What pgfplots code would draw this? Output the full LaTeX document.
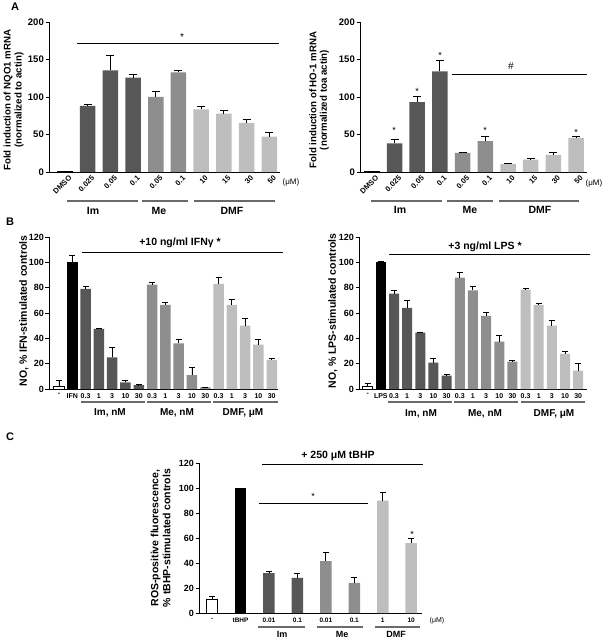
\documentclass[border=0pt]{standalone}
\usepackage{fontspec}
\setmainfont{Liberation Sans}
\usepackage{pgfplots}
\pgfplotsset{compat=1.18}
\definecolor{imgray}{HTML}{575757}
\definecolor{megray}{HTML}{8E8E8E}
\definecolor{dmfgray}{HTML}{BEBEBE}
\definecolor{grpline}{HTML}{6A6A6A}

\newcommand{\fs}[1]{\fontsize{#1}{#1}\selectfont\bfseries}

\pgfplotsset{
  panel/.style={
    scale only axis, anchor=south west,
    axis x line*=bottom, axis y line*=left,
    axis line style={line width=0.9pt},
    ybar, bar shift=0pt, ymin=0,
    xtick style={draw=none},
    ytick style={line width=0.9pt, black},
    tick align=outside, major tick length=3.5pt,
    /pgf/number format/assume math mode=true,
    yticklabel style={font=\fs{9}, inner sep=1.5pt},
    xticklabel style={font=\fs{7}},
    error bars/y dir=plus, error bars/y explicit,
    error bars/error bar style={black, line width=0.9pt},
    clip=false,
  },
  rotticks/.style={
    xticklabel style={rotate=45, anchor=north east, xshift=4pt, yshift=-1pt,
      font=\fs{7.5}, inner sep=1pt},
  },
}

\begin{document}
\begin{tikzpicture}
\path[use as bounding box] (0pt,0pt) rectangle (605pt,-639pt);

% ---- A, NQO1
\begin{axis}[panel, rotticks, at={(49pt,-172pt)}, width=231pt, height=150pt,
  xmin=-0.7, xmax=9.47, ymax=200, ytick={0,50,...,200},
  yticklabel style={font=\fs{9.5}},
  bar width=15.5pt, xtick={0,...,9},
  xticklabels={DMSO,0.025,0.05,0.1,0.05,0.1,10,15,30,50},
  error bars/error mark options={rotate=90, mark size=4pt, line width=0.9pt, black}]
\addplot[fill=black, draw=none, error bars/y dir=none] coordinates {(0,1)};
\addplot[fill=imgray, draw=none] coordinates {(1,88) +- (0,2.7) (2,135.4) +- (0,20.4) (3,125.7) +- (0,3.9)};
\addplot[fill=megray, draw=none] coordinates {(4,100) +- (0,8) (5,132.7) +- (0,2.3)};
\addplot[fill=dmfgray, draw=none] coordinates {(6,83.6) +- (0,4.4) (7,77.9) +- (0,4.8) (8,65.5) +- (0,4) (9,47.3) +- (0,4.9)};
\end{axis}

% ---- A, HO-1
\begin{axis}[panel, rotticks, at={(360pt,-172pt)}, width=227pt, height=150pt,
  xmin=-0.52, xmax=9.48, ymax=200, ytick={0,50,...,200},
  yticklabel style={font=\fs{9.5}},
  bar width=15.5pt, xtick={0,...,9},
  xticklabels={DMSO,0.025,0.05,0.1,0.05,0.1,10,15,30,50},
  error bars/error mark options={rotate=90, mark size=4pt, line width=0.9pt, black}]
\addplot[fill=black, draw=none, error bars/y dir=none] coordinates {(0,1)};
\addplot[fill=imgray, draw=none] coordinates {(1,38) +- (0,6) (2,93) +- (0,8) (3,134) +- (0,15)};
\addplot[fill=megray, draw=none] coordinates {(4,25.4) +- (0,1.3) (5,41) +- (0,6.7)};
\addplot[fill=dmfgray, draw=none] coordinates {(6,10.7) +- (0,1.3) (7,16.5) +- (0,1.3) (8,23) +- (0,3.3) (9,45.4) +- (0,1.4)};
\end{axis}

% ---- B, IFN
\begin{axis}[panel, at={(49pt,-389pt)}, width=229pt, height=152pt,
  xmin=-0.75, xmax=16.47, ymax=120, ytick={0,20,...,120},
  bar width=10.5pt, xtick={0,...,16},
  xticklabels={-,IFN,0.3,1,3,10,30,0.3,1,3,10,30,0.3,1,3,10,30},
  xticklabel style={font=\fs{7}, inner sep=1pt},
  error bars/error mark options={rotate=90, mark size=3pt, line width=0.9pt, black}]
\addplot[fill=white, draw=black, line width=0.8pt] coordinates {(0,2.4) +- (0,4)};
\addplot[fill=black, draw=none] coordinates {(1,100) +- (0,5.5)};
\addplot[fill=imgray, draw=none] coordinates {(2,79) +- (0,2) (3,47.5) +- (0,0.5) (4,25) +- (0,8) (5,5.3) +- (0,1.3) (6,3) +- (0,0.3)};
\addplot[fill=megray, draw=none] coordinates {(7,82.5) +- (0,2) (8,66.5) +- (0,2) (9,36) +- (0,3.3) (10,11) +- (0,6) (11,1.3) +- (0,0.2)};
\addplot[fill=dmfgray, draw=none] coordinates {(12,83) +- (0,5) (13,66.5) +- (0,4.5) (14,50) +- (0,6) (15,35) +- (0,4) (16,23) +- (0,1.3)};
\end{axis}

% ---- B, LPS
\begin{axis}[panel, at={(359pt,-389pt)}, width=228pt, height=152pt,
  xmin=-0.66, xmax=16.67, ymax=120, ytick={0,20,...,120},
  bar width=10pt, xtick={0,...,16},
  xticklabels={-,LPS,0.3,1,3,10,30,0.3,1,3,10,30,0.3,1,3,10,30},
  xticklabel style={font=\fs{7}, inner sep=1pt},
  error bars/error mark options={rotate=90, mark size=3pt, line width=0.9pt, black}]
\addplot[fill=white, draw=black, line width=0.8pt] coordinates {(0,2.4) +- (0,2.1)};
\addplot[fill=black, draw=none] coordinates {(1,100) +- (0,0.8)};
\addplot[fill=imgray, draw=none] coordinates {(2,75.2) +- (0,2.4) (3,64) +- (0,5.8) (4,44.5) +- (0,0.3) (5,20.8) +- (0,3.7) (6,10.6) +- (0,0.7)};
\addplot[fill=megray, draw=none] coordinates {(7,88) +- (0,4) (8,77.8) +- (0,3.2) (9,57.8) +- (0,2.9) (10,37.5) +- (0,4.7) (11,21.6) +- (0,0.8)};
\addplot[fill=dmfgray, draw=none] coordinates {(12,78.4) +- (0,0.8) (13,66.5) +- (0,1.3) (14,50) +- (0,4) (15,27.7) +- (0,1.6) (16,14.5) +- (0,5.8)};
\end{axis}

% ---- C, tBHP
\begin{axis}[panel, at={(199pt,-613pt)}, width=223pt, height=150pt,
  xmin=-0.46, xmax=7.38, ymax=120, ytick={0,20,...,120},
  bar width=11.5pt, xtick={0,...,7},
  xticklabels={-,tBHP,0.01,0.1,0.01,0.1,1,10},
  xticklabel style={font=\fs{6.5}, inner sep=1.5pt},
  error bars/error mark options={rotate=90, mark size=3pt, line width=0.9pt, black}]
\addplot[fill=white, draw=black, line width=0.8pt] coordinates {(0,11) +- (0,2.4)};
\addplot[fill=black, draw=none, error bars/y dir=none] coordinates {(1,100)};
\addplot[fill=imgray, draw=none] coordinates {(2,32) +- (0,1.6) (3,28.2) +- (0,3.7)};
\addplot[fill=megray, draw=none] coordinates {(4,41.5) +- (0,6.9) (5,24.2) +- (0,4.5)};
\addplot[fill=dmfgray, draw=none] coordinates {(6,90) +- (0,6.7) (7,56) +- (0,3.8)};
\end{axis}

% ---- annotations, in picture pixels
\begin{scope}[x=1pt, y=-1pt]
\node[font=\fs{11}] at (15,7) {A};
\node[font=\fs{11}] at (10,222) {B};
\node[font=\fs{11}] at (10,437) {C};

% A left
\node[rotate=90, align=center, font=\fontsize{9.7}{11}\selectfont\bfseries] at (13.5,100) {Fold induction of NQO1 mRNA\\(normalized to actin)};
\draw[line width=0.9pt] (77,43) -- (279,43);
\node[font=\fontsize{10}{10}\selectfont] at (182,37) {*};
\draw[grpline, line width=1.2pt] (67,201) -- (138,201) (142,201) -- (188,201) (194,201) -- (275,201);
\node[font=\fs{10.5}] at (93,211) {Im};
\node[font=\fs{10.5}] at (159,211) {Me};
\node[font=\fs{10.5}] at (232,211) {DMF};
\node[font=\fontsize{8}{8}\selectfont] at (291,182) {(μM)};

% A right
\node[rotate=90, align=center, font=\fontsize{9.7}{10.5}\selectfont\bfseries] at (319,100) {Fold induction of HO-1 mRNA\\(normalized toa actin)};
\draw[line width=0.9pt] (452,74) -- (587,74);
\node[font=\fontsize{10}{10}\selectfont] at (511,66) {\#};
\foreach \xx/\yy in {394/130, 417/91, 440/55, 485/130, 576/132}
  \node[font=\fontsize{9}{9}\selectfont] at (\xx,\yy) {*};
\draw[grpline, line width=1.2pt] (371,201) -- (442,201) (447,201) -- (493,201) (499,201) -- (579,201);
\node[font=\fs{10.5}] at (400,210) {Im};
\node[font=\fs{10.5}] at (470,210) {Me};
\node[font=\fs{10.5}] at (540,210) {DMF};
\node[font=\fontsize{8}{8}\selectfont] at (594,183) {(μM)};

% B left
\node[rotate=90, font=\fs{10.5}] at (24,311) {NO, \% IFN-stimulated controls};
\draw[line width=0.9pt] (82,252) -- (283,252);
\node[font=\fs{10.5}] at (180,243) {+10 ng/ml IFNγ *};
\draw[grpline, line width=1.2pt] (81,402) -- (145,402) (147,402) -- (211,402) (213,402) -- (278,402);
\node[font=\fs{10}] at (110,413) {Im, nM};
\node[font=\fs{10}] at (177,413) {Me, nM};
\node[font=\fs{10}] at (243,413) {DMF, μM};

% B right
\node[rotate=90, font=\fs{10.5}] at (333,311) {NO, \% LPS-stimulated controls};
\draw[line width=0.9pt] (389,254) -- (590,254);
\node[font=\fs{10.5}] at (485,247) {+3 ng/ml LPS *};
\draw[grpline, line width=1.2pt] (388,402) -- (452,402) (454,402) -- (518,402) (521,402) -- (585,402);
\node[font=\fs{10}] at (421,414) {Im, nM};
\node[font=\fs{10}] at (485,414) {Me, nM};
\node[font=\fs{10}] at (554,414) {DMF, μM};

% C
\node[rotate=90, align=center, font=\fontsize{10.5}{12}\selectfont\bfseries] at (160.5,538) {ROS-positive fluorescence,\\\% tBHP-stimulated controls};
\draw[line width=0.9pt] (262,464) -- (423,464);
\node[font=\fs{10.5}] at (338,456) {+ 250 μM tBHP};
\draw[line width=0.9pt] (259,503) -- (368,503);
\node[font=\fontsize{9}{9}\selectfont] at (313,496) {*};
\node[font=\fontsize{9}{9}\selectfont] at (412,534) {*};
\draw[grpline, line width=1.2pt] (258,627) -- (305,627) (317,627) -- (363,627) (375,627) -- (420,627);
\node[font=\fs{9}] at (282,634) {Im};
\node[font=\fs{9}] at (342,634) {Me};
\node[font=\fs{9}] at (396,634) {DMF};
\node[font=\fontsize{7}{7}\selectfont] at (437,621) {(μM)};
\end{scope}
\end{tikzpicture}
\end{document}
